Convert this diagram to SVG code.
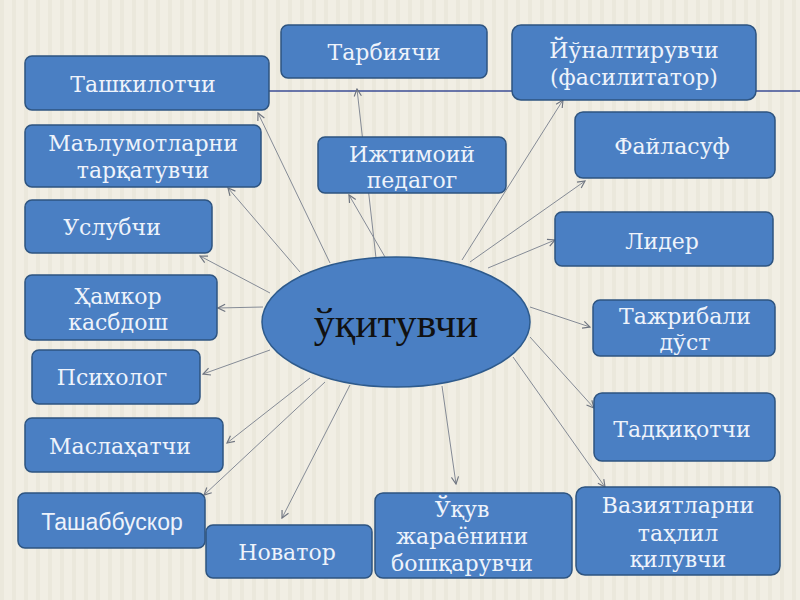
<svg xmlns="http://www.w3.org/2000/svg" width="800" height="600" viewBox="0 0 800 600">
<defs>
<style>
.box{fill:#4a7fc3;stroke:#2e5480;stroke-width:1.5}
.t{font-family:"DejaVu Serif","Liberation Serif",serif;font-size:22px;fill:#eef3fb;text-anchor:middle}
.ts{font-family:"Liberation Sans","Open Sans",sans-serif;font-size:23px;fill:#eef3fb;text-anchor:middle}
.c{stroke:#858b96;stroke-width:1;fill:none;marker-end:url(#ah)}
</style>
<marker id="ah" viewBox="0 0 10 10" refX="9" refY="5" markerWidth="9" markerHeight="9" orient="auto" markerUnits="userSpaceOnUse">
<path d="M1,1 L9,5 L1,9" fill="none" stroke="#6f7580" stroke-width="1.3"/>
</marker>
<pattern id="stripes" width="12" height="600" patternUnits="userSpaceOnUse">
<rect width="12" height="600" fill="#f1eee4"/>
<rect width="4" height="600" fill="#ebe8dc"/>
</pattern>
</defs>
<rect width="800" height="600" fill="url(#stripes)"/>
<line x1="269" y1="91" x2="800" y2="91" stroke="#3b4c96" stroke-width="1.5"/>
<g id="connectors">
<line class="c" x1="376" y1="258" x2="357" y2="89"/>
<line class="c" x1="330" y1="263" x2="258" y2="113"/>
<line class="c" x1="300" y1="272" x2="228" y2="188"/>
<line class="c" x1="385" y1="257" x2="349" y2="195"/>
<line class="c" x1="462" y1="260" x2="563" y2="100"/>
<line class="c" x1="470" y1="262" x2="585" y2="181"/>
<line class="c" x1="488" y1="268" x2="555" y2="240"/>
<line class="c" x1="270" y1="293" x2="200" y2="256"/>
<line class="c" x1="263" y1="307" x2="218" y2="308"/>
<line class="c" x1="270" y1="350" x2="203" y2="374"/>
<line class="c" x1="310" y1="378" x2="227" y2="443"/>
<line class="c" x1="325" y1="382" x2="204" y2="495"/>
<line class="c" x1="350" y1="385" x2="282" y2="518"/>
<line class="c" x1="442" y1="386" x2="456" y2="484"/>
<line class="c" x1="513" y1="357" x2="605" y2="487"/>
<line class="c" x1="530" y1="337" x2="594" y2="408"/>
<line class="c" x1="530" y1="307" x2="590" y2="327"/>
</g>
<g id="center">
<ellipse cx="396" cy="322" rx="134" ry="65" fill="#4a7fc3" stroke="#2d5a8c" stroke-width="1.5"/>
<text x="396" y="337" font-family="Liberation Serif,DejaVu Serif,serif" font-size="42" fill="#111" text-anchor="middle">ўқитувчи</text>
</g>
<g id="n-tarbiyachi"><rect class="box" x="281" y="25" width="206" height="53" rx="7"/><text class="t" x="384" y="60">Тарбиячи</text></g>
<g id="n-yunaltiruvchi"><rect class="box" x="512" y="25" width="244" height="75" rx="9"/><text class="t" x="634" y="58">Йўналтирувчи</text><text class="t" x="634" y="85">(фасилитатор)</text></g>
<g id="n-tashkilotchi"><rect class="box" x="25" y="56" width="244" height="54" rx="7"/><text class="t" x="143" y="92">Ташкилотчи</text></g>
<g id="n-malumot"><rect class="box" x="25" y="125" width="236" height="62" rx="7"/><text class="t" x="143" y="151">Маълумотларни</text><text class="t" x="143" y="178">тарқатувчи</text></g>
<g id="n-ijtimoiy"><rect class="box" x="318" y="137" width="188" height="56" rx="7"/><text class="t" x="412" y="162">Ижтимоий</text><text class="t" x="412" y="188">педагог</text></g>
<g id="n-faylasuf"><rect class="box" x="575" y="112" width="200" height="66" rx="8"/><text class="t" x="672" y="154">Файласуф</text></g>
<g id="n-uslubchi"><rect class="box" x="25" y="200" width="187" height="53" rx="7"/><text class="t" x="112" y="235">Услубчи</text></g>
<g id="n-lider"><rect class="box" x="555" y="212" width="218" height="54" rx="7"/><text class="t" x="662" y="249">Лидер</text></g>
<g id="n-hamkor"><rect class="box" x="25" y="275" width="192" height="65" rx="7"/><text class="t" x="118" y="304">Ҳамкор</text><text class="t" x="118" y="330">касбдош</text></g>
<g id="n-tajribali"><rect class="box" x="593" y="300" width="182" height="56" rx="7"/><text class="t" x="685" y="324">Тажрибали</text><text class="t" x="685" y="350">дўст</text></g>
<g id="n-psixolog"><rect class="box" x="32" y="350" width="168" height="54" rx="7"/><text class="t" x="112" y="385">Психолог</text></g>
<g id="n-maslahatchi"><rect class="box" x="25" y="418" width="198" height="54" rx="7"/><text class="t" x="120" y="454">Маслаҳатчи</text></g>
<g id="n-tadqiqotchi"><rect class="box" x="594" y="393" width="181" height="68" rx="8"/><text class="t" x="682" y="437">Тадқиқотчи</text></g>
<g id="n-tashabbuskor"><rect class="box" x="18" y="493" width="187" height="55" rx="7"/><text class="ts" x="112" y="530">Ташаббускор</text></g>
<g id="n-novator"><rect class="box" x="206" y="525" width="166" height="53" rx="7"/><text class="t" x="287" y="560">Новатор</text></g>
<g id="n-uquv"><rect class="box" x="375" y="493" width="197" height="85" rx="8"/><text class="t" x="462" y="517">Ўқув</text><text class="t" x="462" y="544">жараёнини</text><text class="t" x="462" y="571">бошқарувчи</text></g>
<g id="n-vaziyat"><rect class="box" x="576" y="487" width="204" height="88" rx="9"/><text class="t" x="678" y="513">Вазиятларни</text><text class="t" x="678" y="541">таҳлил</text><text class="t" x="678" y="567">қилувчи</text></g>
</svg>
